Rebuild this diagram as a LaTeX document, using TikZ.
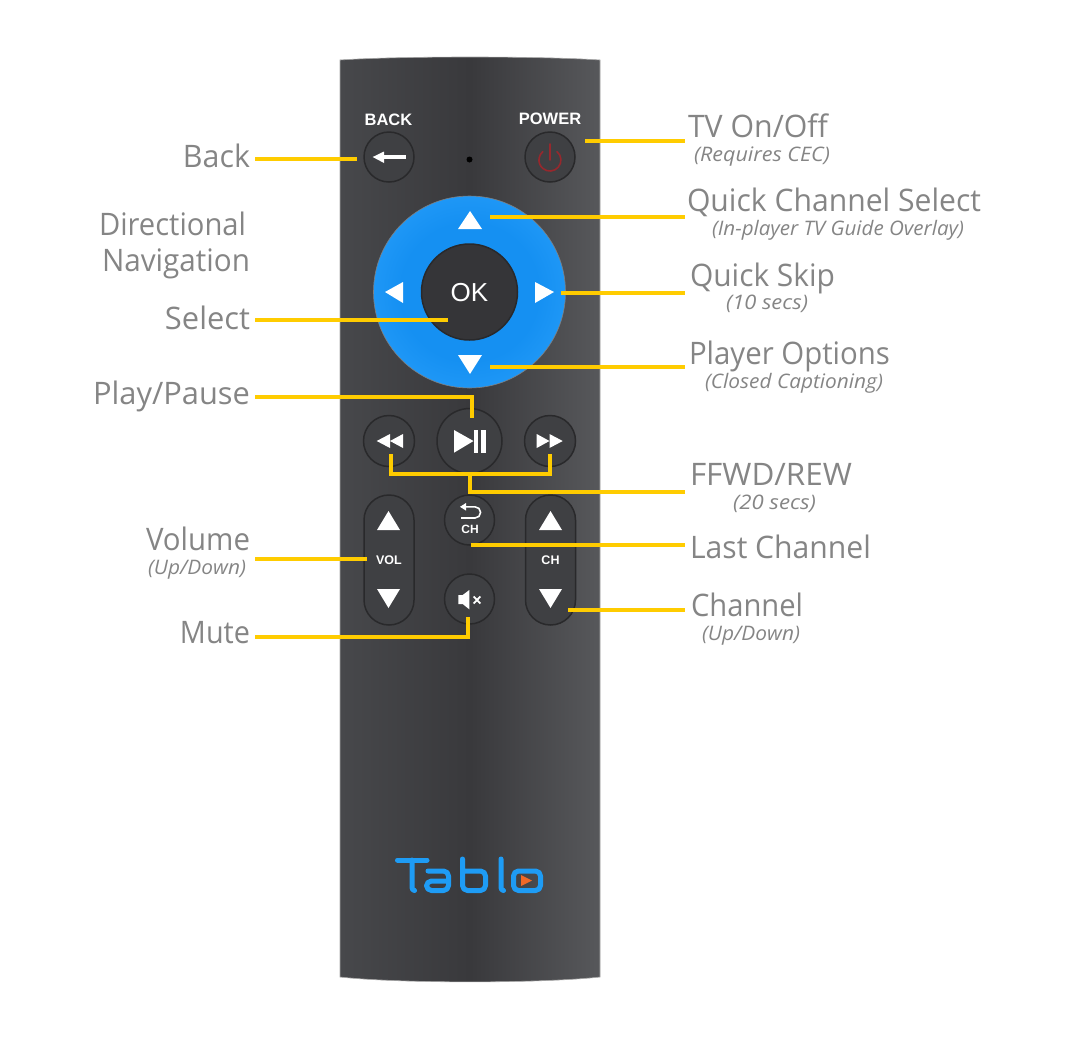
\documentclass[tikz,border=0pt]{standalone}
\usepackage{graphicx}
\usepackage{fontspec}
\setmainfont{Open Sans}
\newfontfamily\remotefont{Liberation Sans}
\definecolor{leader}{HTML}{FFCC00}
\definecolor{labelgray}{HTML}{858585}
\definecolor{btnfill}{HTML}{3F4043}
\definecolor{btnline}{HTML}{29292B}
\definecolor{okfill}{HTML}{353538}
\definecolor{logoblue}{HTML}{1E9CF5}
\definecolor{powerred}{HTML}{96282D}
\definecolor{logoorange}{HTML}{F06928}
\definecolor{bodyL}{HTML}{47484B}
\definecolor{bodyM}{HTML}{39393C}
\definecolor{bodyR}{HTML}{57585B}
\definecolor{dpadA}{HTML}{1590F2}
\definecolor{dpadB}{HTML}{1E97F6}
\definecolor{dpadC}{HTML}{33A4FF}
\pgfdeclareradialshading{dpadshade}{\pgfpoint{0bp}{0bp}}{color(0bp)=(dpadA);color(18bp)=(dpadA);color(25bp)=(dpadB);color(35bp)=(dpadC);color(50bp)=(dpadC)}
\newcommand{\fitw}[2]{\resizebox{#1pt}{\height}{#2}}
\tikzset{
  leaderline/.style={draw=leader,line width=4pt,line cap=butt,line join=miter},
  mainlab/.style={text=labelgray,font=\fontsize{31}{36}\selectfont,inner sep=0pt,outer sep=0pt},
  sublab/.style={text=labelgray,font=\fontsize{20}{24}\selectfont\itshape,inner sep=0pt,outer sep=0pt},
  btn/.style={circle,fill=btnfill,draw=btnline,line width=1.5pt,inner sep=0pt,outer sep=0pt},
  pill/.style={rectangle,rounded corners=25pt,fill=btnfill,draw=btnline,line width=1.5pt,inner sep=0pt,outer sep=0pt,minimum width=50pt,minimum height=130pt},
  remotetxt/.style={text=white,inner sep=0pt,outer sep=0pt},
  glyph/.style={fill=white,draw=none},
}
\begin{document}
\begin{tikzpicture}[x=1pt,y=-1pt]
\useasboundingbox (0,0) rectangle (1073,1037);
% remote body
\path[left color=bodyL,right color=bodyR,middle color=bodyM,draw=gray!70,line width=0.6pt]
  (340,60) .. controls (400,56) and (540,56) .. (600,60) -- (600,977)
  .. controls (540,983.5) and (400,983.5) .. (340,977) -- cycle;
% d-pad
\node[circle,minimum size=192pt,inner sep=0pt,outer sep=0pt,shading=dpadshade,draw=btnline!60,line width=.6pt] (dpad) at (469.5,292) {};
\node[btn,minimum size=96pt,fill=okfill] (okbtn) at (469.5,292) {};
\node[remotetxt,font=\remotefont\fontsize{26}{30}\selectfont] (oktxt) at (469.5,292.5) {OK};
\fill[glyph] (470,211) -- (482,229) -- (458,229) -- cycle;
\fill[glyph] (470,374) -- (482,355) -- (458,355) -- cycle;
\fill[glyph] (385,292) -- (403,282) -- (403,303) -- cycle;
\fill[glyph] (554,292) -- (535,282) -- (535,303) -- cycle;
% top buttons
\node[btn,minimum size=50pt] (backbtn) at (389,157) {};
\node[btn,minimum size=50pt] (powerbtn) at (550,157) {};
\node[remotetxt,font=\remotefont\bfseries\fontsize{16.5}{20}\selectfont] (backtxt) at (388.5,119.5) {BACK};
\node[remotetxt,font=\remotefont\bfseries\fontsize{16.5}{20}\selectfont] (powertxt) at (550,118.5) {POWER};
\fill[black] (469.5,159.5) circle (3);
\fill[glyph] (372.7,157) -- (384,151.5) -- (384,163) -- cycle;
\fill[glyph] (383,155) rectangle (405.5,159);
\draw[powerred,line width=1.6pt,line cap=round] (550,144) -- (550,160);
\draw[powerred,line width=1.6pt,line cap=round] (557,151.6) arc[start angle=-50,end angle=230,radius=11];
% transport
\node[btn,minimum size=51pt] (rewbtn) at (389,441) {};
\node[btn,minimum size=51pt] (ffbtn) at (550,441) {};
\node[btn,minimum size=65pt] (playbtn) at (469.5,441) {};
\fill[glyph] (376.7,441) -- (390,434) -- (390,448) -- cycle;
\fill[glyph] (390,441) -- (403,434) -- (403,448) -- cycle;
\fill[glyph] (562.7,441) -- (549.5,434) -- (549.5,448) -- cycle;
\fill[glyph] (549.5,441) -- (536.7,434) -- (536.7,448) -- cycle;
\fill[glyph] (454,430) -- (473.5,441) -- (454,452.7) -- cycle;
\fill[glyph] (474,430) rectangle (478,452.7);
\fill[glyph] (481,430) rectangle (486,452.7);
% lower buttons
\node[pill] (volpill) at (389,560) {};
\node[pill] (chpill) at (550.5,560) {};
\node[btn,minimum size=50pt] (lastbtn) at (469.5,520) {};
\node[btn,minimum size=50pt] (mutebtn) at (469.5,599) {};
\node[remotetxt,font=\remotefont\bfseries\fontsize{12.5}{15}\selectfont] (voltxt) at (389,560) {VOL};
\node[remotetxt,font=\remotefont\bfseries\fontsize{12.5}{15}\selectfont] (chtxt) at (550.5,560) {CH};
\node[remotetxt,font=\remotefont\bfseries\fontsize{12}{15}\selectfont] (lasttxt) at (470,529.5) {CH};
\fill[glyph] (388.5,511) -- (400,530) -- (377,530) -- cycle;
\fill[glyph] (388.5,608) -- (400,589) -- (377,589) -- cycle;
\fill[glyph] (550.5,511) -- (562,530) -- (539,530) -- cycle;
\fill[glyph] (550.5,608) -- (562,589) -- (539,589) -- cycle;
\fill[glyph] (460,506.8) -- (466,503) -- (466,510.6) -- cycle;
\draw[white,line width=1.6pt] (465,506.8) -- (475,506.8) arc[start angle=-90,end angle=90,radius=5.6] -- (461,518);
\fill[glyph] (458.3,595) -- (462.7,595) -- (469.3,590) -- (469.3,609.3) -- (462.7,604) -- (458.3,604) -- cycle;
\draw[white,line width=1.8pt] (473.6,596.5) -- (480.4,603.5) (473.6,603.5) -- (480.4,596.5);
% logo
\begin{scope}[logoblue,line width=5pt,line cap=round,line join=round]
\draw (397.5,860) -- (427,860);
\draw (412,860) -- (412,886) .. controls (412,889.5) and (413,890.5) .. (414.5,890.5);
\draw[rounded corners=5pt] (428,871) -- (448.5,871) -- (448.5,890.5) -- (426.5,890.5) -- (426.5,881) -- (448.5,881);
\draw[rounded corners=5pt] (462.5,859) -- (462.5,890.5) -- (485.5,890.5) -- (485.5,871) -- (462.5,871);
\draw (501,859) -- (501,886) .. controls (501,889.5) and (502,890.5) .. (503.5,890.5);
\draw[rounded corners=5pt] (513.5,871) rectangle (540.5,890.5);
\end{scope}
\fill[logoorange] (521,875) -- (532,880.5) -- (521,886) -- cycle;
% labels left
\node[mainlab,anchor=base east] (lblback) at (250,167) {\fitw{67}{Back}};
\node[mainlab,anchor=base west] (lbldir) at (99,235) {\fitw{147}{Directional}};
\node[mainlab,anchor=base west] (lblnav) at (102,271) {\fitw{148}{Navigation}};
\node[mainlab,anchor=base east] (lblselect) at (250,329) {\fitw{85}{Select}};
\node[mainlab,anchor=base east] (lblplay) at (250,404) {\fitw{157}{Play/Pause}};
\node[mainlab,anchor=base east] (lblvol) at (250,550) {\fitw{104}{Volume}};
\node[sublab,anchor=base west] (subvol) at (148,574) {\fitw{98}{(Up/Down)}};
\node[mainlab,anchor=base east] (lblmute) at (250,643) {\fitw{70}{Mute}};
% labels right
\node[mainlab,anchor=base west] (lbltv) at (688,137) {\fitw{140}{TV On/Off}};
\node[sublab,anchor=base west] (subtv) at (694,161) {\fitw{136}{(Requires CEC)}};
\node[mainlab,anchor=base west] (lblqc) at (687,211) {\fitw{294}{Quick Channel Select}};
\node[sublab,anchor=base west] (subqc) at (712,235) {\fitw{252}{(In-player TV Guide Overlay)}};
\node[mainlab,anchor=base west] (lblqs) at (690,286) {\fitw{145}{Quick Skip}};
\node[sublab,anchor=base west] (subqs) at (726,309) {\fitw{82}{(10 secs)}};
\node[mainlab,anchor=base west] (lblpo) at (689,364) {\fitw{201}{Player Options}};
\node[sublab,anchor=base west] (subpo) at (705,388) {\fitw{178}{(Closed Captioning)}};
\node[mainlab,anchor=base west] (lblff) at (690,485) {\fitw{162}{FFWD/REW}};
\node[sublab,anchor=base west] (subff) at (733,509) {\fitw{83}{(20 secs)}};
\node[mainlab,anchor=base west] (lbllast) at (690,558) {\fitw{181}{Last Channel}};
\node[mainlab,anchor=base west] (lblch) at (691,616) {\fitw{112}{Channel}};
\node[sublab,anchor=base west] (subch) at (702,640) {\fitw{98}{(Up/Down)}};
% connector ends
\coordinate (a1) at (255,158.5); \coordinate (b1) at (357,158.5);
\coordinate (a2) at (585,141); \coordinate (b2) at (685,141);
\coordinate (a3) at (490,217); \coordinate (b3) at (685,217);
\coordinate (a4) at (561,293); \coordinate (b4) at (685,293);
\coordinate (a5) at (255,320); \coordinate (b5) at (448,320);
\coordinate (a6) at (490,367); \coordinate (b6) at (685,367);
\coordinate (a7) at (255,397); \coordinate (b7) at (472,397); \coordinate (c7) at (472,418);
\coordinate (a8) at (685,491.5); \coordinate (b8) at (470,491.5); \coordinate (c8) at (470,474);
\coordinate (d8) at (391,454); \coordinate (e8) at (391,474); \coordinate (f8) at (550,474); \coordinate (g8) at (550,454);
\coordinate (a9) at (471,545); \coordinate (b9) at (685,545);
\coordinate (a10) at (255,559); \coordinate (b10) at (367,559);
\coordinate (a11) at (568,610); \coordinate (b11) at (685,610);
\coordinate (a12) at (255,637); \coordinate (b12) at (467.5,637); \coordinate (c12) at (467.5,617);
\draw[leaderline] (a1) -- (b1);
\draw[leaderline] (a2) -- (b2);
\draw[leaderline] (a3) -- (b3);
\draw[leaderline] (a4) -- (b4);
\draw[leaderline] (a5) -- (b5);
\draw[leaderline] (a6) -- (b6);
\draw[leaderline] (a7) -- (b7) -- (c7);
\draw[leaderline] (d8) -- (e8) -- (f8) -- (g8);
\draw[leaderline] (a8) -- (b8) -- (c8);
\draw[leaderline] (a9) -- (b9);
\draw[leaderline] (a10) -- (b10);
\draw[leaderline] (a11) -- (b11);
\draw[leaderline] (a12) -- (b12) -- (c12);
\end{tikzpicture}
\end{document}
